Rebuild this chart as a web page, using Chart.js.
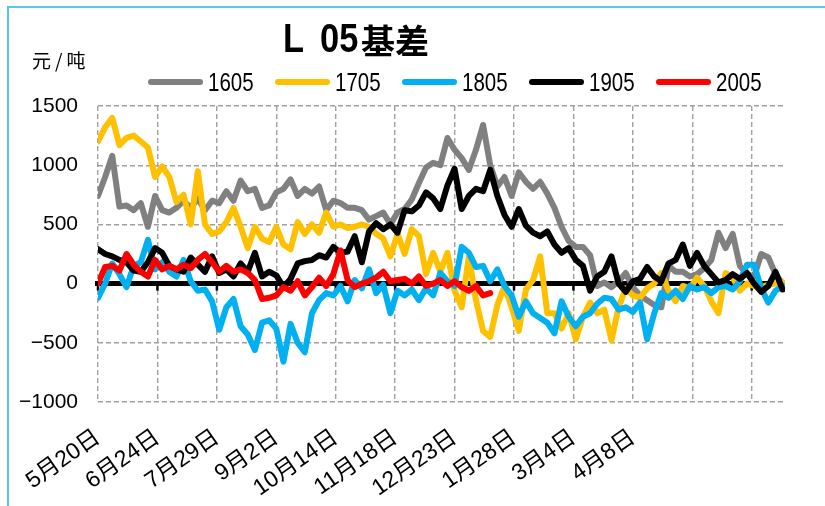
<!DOCTYPE html>
<html>
<head>
<meta charset="utf-8">
<title>L 05基差</title>
<script src="https://cdn.jsdelivr.net/npm/chart.js@4.4.1/dist/chart.umd.min.js"></script>
<style>
  html, body { margin: 0; padding: 0; background: #fff; }
  #wrap { position: relative; width: 825px; height: 506px; overflow: hidden; }
  #frame { position: absolute; left: 7px; top: 6px; width: 840px; height: 520px;
           border-left: 2px solid #5bc5f2; border-top: 2px solid #5bc5f2; }
  #myChart { position: absolute; left: 0; top: 0; }
  .ttl { position: absolute; top: 18px; white-space: nowrap; color: #000; font-weight: bold; line-height: 40px; }
  .ttl.lat { font-family: "Liberation Sans", sans-serif; font-size: 41px; transform: scaleX(0.84); transform-origin: left center; }
  .ttl.cjk { font-family: "Noto Sans CJK SC", sans-serif; font-size: 34px; top: 20px; }
  #unit { position: absolute; left: 32px; top: 48px; font-family: "Noto Sans CJK SC", sans-serif;
          font-size: 19px; line-height: 24px; letter-spacing: 4px; color: #000; }
  #legend { position: absolute; left: 148px; top: 68px; display: flex; }
  #legend .item { width: 127px; display: flex; align-items: center; height: 28px; }
  #legend .swatch { width: 55px; height: 6px; border-radius: 3px; margin-right: 5px; flex: none; }
  #legend .txt { display: inline-block; font-family: "Liberation Sans", sans-serif; font-size: 25px; color: #000;
                 transform: scaleX(0.82); transform-origin: left center; }
</style>
</head>
<body>
<div id="wrap">
  <div id="frame"></div>
  <canvas id="myChart" width="825" height="506"></canvas>
  <span class="ttl lat" style="left:283px">L</span>
  <span class="ttl lat" style="left:320px">05</span>
  <span class="ttl cjk" style="left:361px">基差</span>
  <div id="unit">元/吨</div>
  <div id="legend"></div>
</div>
<script>
// --- Data (one value every STEP trading days, starting 5月20日) ---
const STEP = 3;
const xLabels = ['5月20日', '6月24日', '7月29日', '9月2日', '10月14日', '11月18日', '12月23日', '1月28日', '3月4日', '4月8日'];
const seriesNames = ['1605', '1705', '1805', '1905', '2005'];
const seriesColors = ['#808080', '#ffc000', '#00b0f0', '#000000', '#ff0000'];

const s1605 = [740, 900, 1080, 650, 660, 620, 680, 480, 740, 620,
  600, 640, 700, 640, 720, 620, 700, 680, 780, 700,
  870, 780, 800, 640, 660, 770, 800, 880, 740, 800,
  760, 820, 620, 700, 680, 640, 640, 620, 540, 570,
  600, 500, 600, 630, 710, 850, 980, 1020, 1000, 1230,
  1130, 1060, 960, 1130, 1340, 1000, 820, 900, 740, 940,
  860, 800, 860, 760, 640, 480, 360, 310, 310, 240,
  -20, 10, -30, 20, 90, -30, -100, -140, -180, -200,
  150, 100, 100, 60, 80, 130, 200, 430, 300, 420,
  150, 80, 60, 250, 220, 80, 0];
const s1705 = [1200, 1320, 1400, 1170, 1230, 1250, 1200, 1150, 900, 990,
  900, 690, 750, 500, 950, 500, 420, 440, 520, 640,
  480, 300, 480, 380, 350, 480, 330, 290, 520, 420,
  500, 430, 600, 480, 500, 470, 480, 500, 480, 420,
  380, 230, 420, 250, 460, 400, 80, 260, 100, 260,
  -60, -200, 230, -140, -400, -450, -180, -20, -200, -400,
  -50, 30, 230, -250, -250, -380, -250, -470, -280, -160,
  -250, -220, -480, -200, -40, -100, -120, -40, 0, 90,
  -60, -150, -20, -40, 50, -20, -150, -250, 90, 50,
  -60, 0, -20, -30, -10, 0, 10];
const s1805 = [-120, 0, 170, 80, -30, 150, 180, 370, 120, 180,
  100, 60, 200, 20, -60, -50, -150, -390, -200, -130,
  -360, -430, -560, -330, -310, -380, -660, -340, -500, -580,
  -250, -140, -80, -100, -20, -150, 30, -40, 120, -80,
  -10, -250, -60, -100, -50, -140, -40, -100, 90, 20,
  -20, 310, 260, 140, 150, 20, 120, -20, -100, -280,
  -150, -250, -290, -330, -420, -150, -280, -360, -280, -250,
  -170, -120, -130, -220, -200, -240, -160, -470, -250, -80,
  -120, -60, -130, -20, -50, -30, -80, -30, -20, -50,
  20, 160, 160, -40, -160, -60, -20];
const s1905 = [290, 250, 230, 200, 180, 110, 100, 180, 300, 260,
  150, 120, 100, 220, 160, 100, 230, 90, 120, 60,
  170, 100, 260, 60, 100, 70, -30, 40, 170, 190,
  200, 240, 220, 310, 260, 270, 400, 180, 440, 510,
  460, 500, 430, 620, 610, 660, 770, 720, 630, 830,
  970, 630, 740, 800, 780, 960, 740, 580, 480, 630,
  490, 430, 400, 440, 330, 260, 300, 200, 150, -60,
  60, 100, 230, 0, -70, 20, 40, 140, 60, 20,
  170, 200, 330, 150, 260, 150, 80, 10, 30, 80,
  40, 90, 0, -70, -20, 100, -50];
const s2005 = [0, 140, 150, 110, 250, 160, 100, 60, 200, 120,
  150, 120, 160, 130, 200, 250, 180, 100, 150, 100,
  120, 90, 30, -130, -120, -100, -30, -60, 20, -100,
  -30, 50, -20, 80, 280, 30, -30, 0, 20, 50,
  100, 20, 30, 40, 0, 60, -20, 0, 30, -20,
  20, -30, -60, -20, -100, -80];

const allSeries = [s1605, s1705, s1805, s1905, s2005];

// --- Zero axis with small tick marks (drawn under the lines) ---
const zeroAxis = {
  id: 'zeroAxis',
  beforeDatasetsDraw(chart) {
    const { ctx, chartArea, scales } = chart;
    const y0 = scales.y.getPixelForValue(0);
    ctx.save();
    ctx.strokeStyle = '#000';
    ctx.lineWidth = 2.5;
    scales.x.ticks.forEach(t => {
      const px = scales.x.getPixelForValue(t.value);
      ctx.beginPath();
      ctx.moveTo(px, y0);
      ctx.lineTo(px, y0 + 7);
      ctx.stroke();
    });
    ctx.lineWidth = 5;
    ctx.beginPath();
    ctx.moveTo(chartArea.left - 3, y0);
    ctx.lineTo(chartArea.right, y0);
    ctx.stroke();
    ctx.restore();
  }
};

const tickFont = { family: '"Liberation Sans", "Noto Sans CJK SC", sans-serif', size: 21 };

const chart = new Chart(document.getElementById('myChart'), {
  type: 'line',
  data: {
    datasets: seriesNames.map((name, i) => ({
      label: name,
      data: allSeries[i].map((v, k) => ({ x: k * STEP, y: v })),
      borderColor: seriesColors[i],
      backgroundColor: seriesColors[i],
      borderWidth: 6,
      pointRadius: 0,
      tension: 0,
      borderJoinStyle: 'round',
      borderCapStyle: 'round',
      order: seriesNames.length - i
    }))
  },
  options: {
    responsive: false,
    animation: false,
    layout: { padding: { left: 0, top: 106, right: 40, bottom: 0 } },
    plugins: {
      legend: { display: false },
      tooltip: { enabled: false }
    },
    scales: {
      x: {
        type: 'linear',
        min: 0,
        max: 289,
        afterBuildTicks: (scale) => {
          const t = [];
          for (let v = 0; v <= 275; v += 25) t.push({ value: v });
          scale.ticks = t;
        },
        afterFit: (scale) => { scale.height = 104; },
        grid: { color: '#a0a0a0', lineWidth: 1.4, drawTicks: false },
        border: { display: false, dash: [5, 3] },
        ticks: {
          autoSkip: false,
          minRotation: 35,
          maxRotation: 35,
          padding: 22,
          color: '#000',
          font: { family: tickFont.family, size: 23 },
          callback: (v) => xLabels[Math.round(v / 25)] || ''
        }
      },
      y: {
        min: -1000,
        max: 1500,
        afterFit: (scale) => { scale.width = 98; },
        grid: { color: '#a0a0a0', lineWidth: 1.4, drawTicks: false },
        border: { display: false, dash: [5, 3] },
        ticks: {
          stepSize: 500,
          padding: 20,
          color: '#000',
          font: tickFont,
          callback: (v) => (v < 0 ? '\u2212' + Math.abs(v) : String(v))
        }
      }
    }
  },
  plugins: [zeroAxis]
});

// --- HTML legend built from the datasets ---
const legendEl = document.getElementById('legend');
chart.data.datasets.forEach(ds => {
  const item = document.createElement('div');
  item.className = 'item';
  item.innerHTML = `<span class="swatch" style="background:${ds.borderColor}"></span><span class="txt">${ds.label}</span>`;
  legendEl.appendChild(item);
});
</script>
</body>
</html>
